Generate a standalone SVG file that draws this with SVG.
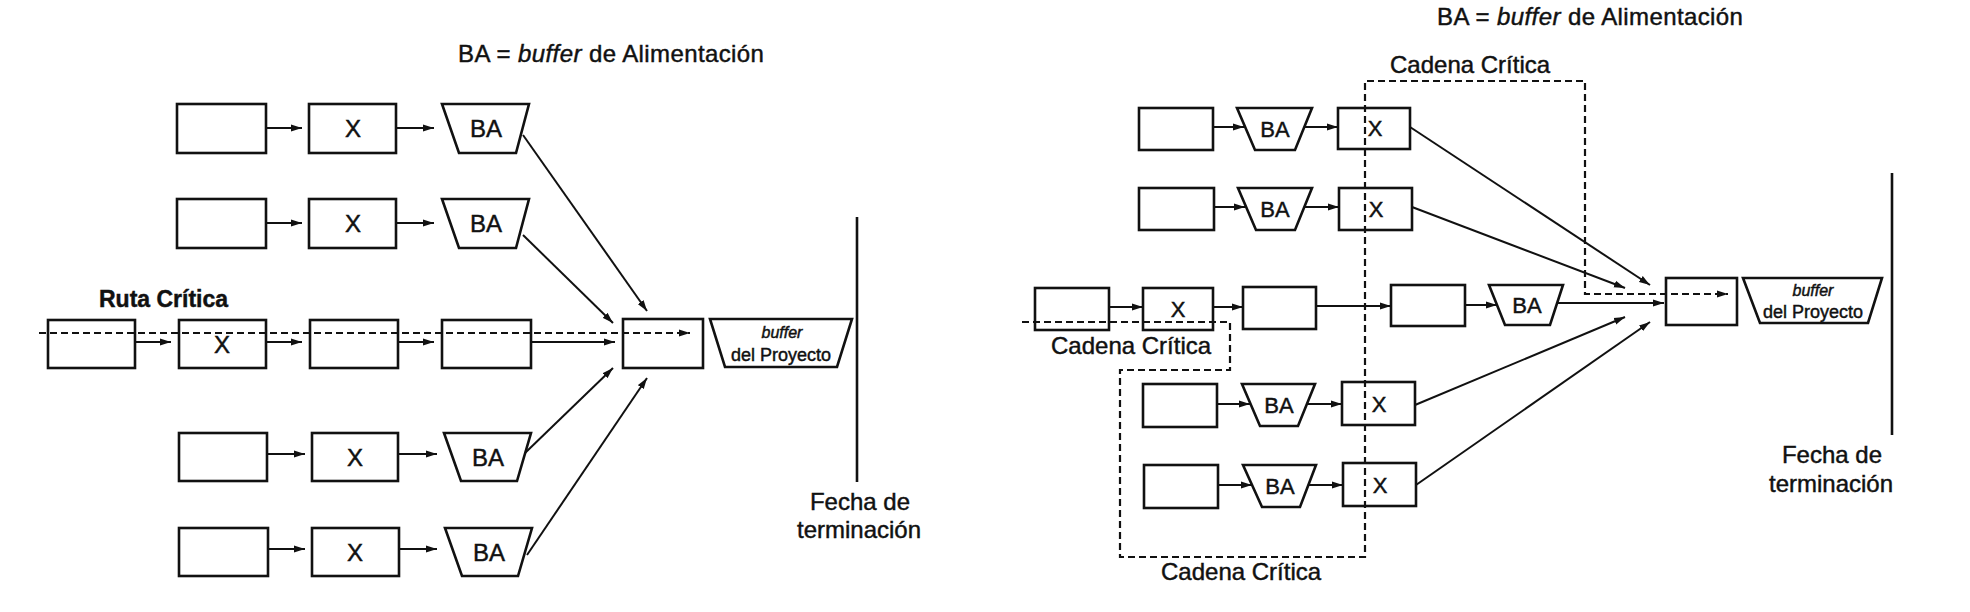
<svg xmlns="http://www.w3.org/2000/svg" width="1970" height="612" viewBox="0 0 1970 612">
<style>
.b{fill:none;stroke:#111;stroke-width:2.6}
.c{fill:none;stroke:#111;stroke-width:2}
.d{fill:none;stroke:#111;stroke-width:2.2;stroke-dasharray:7 4}
text{font-family:"Liberation Sans",Arial,sans-serif;fill:#111;stroke:#111;stroke-width:0.45}
.t{font-size:24px;text-anchor:middle}
.s{font-size:22px;text-anchor:middle}
.lbl{font-size:24px}
.pb{font-size:18px;text-anchor:middle}
.pbi{font-size:16px;text-anchor:middle;font-style:italic}
</style>
<defs>
<marker id="ah" markerUnits="userSpaceOnUse" markerWidth="12" markerHeight="8" refX="11" refY="4" orient="auto">
<path d="M0,0.5 L11,4 L0,7.5 z" fill="#111" stroke="none"/>
</marker>
</defs>
<rect width="1970" height="612" fill="#fff"/>

<!-- LEFT DIAGRAM -->
<text id="title-left" class="lbl" x="458" y="62" font-size="25" letter-spacing="0.4">BA = <tspan font-style="italic">buffer</tspan> de Alimentación</text>
<text id="ruta-critica" x="99" y="307" font-size="23" font-weight="bold" stroke-width="0">Ruta Crítica</text>

<g id="L1a"><rect class="b" x="177" y="104" width="89" height="49"/></g>
<g id="L1x"><rect class="b" x="309" y="104" width="87" height="49"/><text class="t" x="353" y="137">X</text></g>
<g id="L1ba"><polygon class="b" points="442,104 529,104 516,153 459,153"/><text class="t" x="486" y="137">BA</text></g>

<g id="L2a"><rect class="b" x="177" y="199" width="89" height="49"/></g>
<g id="L2x"><rect class="b" x="309" y="199" width="87" height="49"/><text class="t" x="353" y="232">X</text></g>
<g id="L2ba"><polygon class="b" points="442,199 529,199 516,248 459,248"/><text class="t" x="486" y="232">BA</text></g>

<g id="L3a"><rect class="b" x="48" y="320" width="87" height="48"/></g>
<g id="L3x"><rect class="b" x="179" y="320" width="87" height="48"/><text class="t" x="222" y="353">X</text></g>
<g id="L3c"><rect class="b" x="310" y="320" width="88" height="48"/></g>
<g id="L3d"><rect class="b" x="442" y="320" width="89" height="48"/></g>
<g id="Lmerge"><rect class="b" x="623" y="319" width="80" height="49"/></g>
<g id="Lpb"><polygon class="b" points="710,319 852,319 837,367 725,367"/><text class="pbi" x="782" y="338">buffer</text><text class="pb" x="781" y="361">del Proyecto</text></g>

<g id="L4a"><rect class="b" x="179" y="433" width="88" height="48"/></g>
<g id="L4x"><rect class="b" x="312" y="433" width="86" height="48"/><text class="t" x="355" y="466">X</text></g>
<g id="L4ba"><polygon class="b" points="444,433 531,433 517,481 461,481"/><text class="t" x="488" y="466">BA</text></g>

<g id="L5a"><rect class="b" x="179" y="528" width="89" height="48"/></g>
<g id="L5x"><rect class="b" x="312" y="528" width="87" height="48"/><text class="t" x="355" y="561">X</text></g>
<g id="L5ba"><polygon class="b" points="445,528 532,528 518,576 462,576"/><text class="t" x="489" y="561">BA</text></g>

<g id="Lfecha">
<line class="b" x1="857" y1="217" x2="857" y2="482"/>
<text class="t" x="860" y="510" font-size="25">Fecha de</text>
<text class="t" x="859" y="538" font-size="25">terminación</text>
</g>

<!-- RIGHT DIAGRAM -->
<text id="title-right" class="lbl" x="1437" y="25" font-size="25" letter-spacing="0.4">BA = <tspan font-style="italic">buffer</tspan> de Alimentación</text>
<text id="cc-top" class="lbl" x="1390" y="73">Cadena Crítica</text>
<text id="cc-mid" class="lbl" x="1051" y="354">Cadena Crítica</text>
<text id="cc-bottom" class="lbl" x="1161" y="580">Cadena Crítica</text>

<g id="R1a"><rect class="b" x="1139" y="108" width="74" height="42"/></g>
<g id="R1ba"><polygon class="b" points="1237,108 1312,108 1295,150 1255,150"/><text class="s" x="1275" y="137">BA</text></g>
<g id="R1x"><rect class="b" x="1338" y="108" width="72" height="41"/><text class="s" x="1375" y="136">X</text></g>

<g id="R2a"><rect class="b" x="1139" y="188" width="75" height="42"/></g>
<g id="R2ba"><polygon class="b" points="1238,188 1312,188 1295,230 1256,230"/><text class="s" x="1275" y="217">BA</text></g>
<g id="R2x"><rect class="b" x="1339" y="188" width="73" height="42"/><text class="s" x="1376" y="217">X</text></g>

<g id="R3a"><rect class="b" x="1035" y="288" width="74" height="42"/></g>
<g id="R3x"><rect class="b" x="1143" y="288" width="70" height="42"/><text class="s" x="1178" y="317">X</text></g>
<g id="R3c"><rect class="b" x="1243" y="287" width="73" height="42"/></g>
<g id="R3d"><rect class="b" x="1391" y="285" width="74" height="41"/></g>
<g id="R3ba"><polygon class="b" points="1489,285 1563,285 1550,325 1505,325"/><text class="s" x="1527" y="313">BA</text></g>
<g id="Rmerge"><rect class="b" x="1666" y="278" width="71" height="47"/></g>
<g id="Rpb"><polygon class="b" points="1743,278 1882,278 1868,323 1760,323"/><text class="pbi" x="1813" y="296">buffer</text><text class="pb" x="1813" y="318">del Proyecto</text></g>

<g id="R4a"><rect class="b" x="1143" y="384" width="74" height="43"/></g>
<g id="R4ba"><polygon class="b" points="1242,384 1315,384 1298,426 1260,426"/><text class="s" x="1279" y="413">BA</text></g>
<g id="R4x"><rect class="b" x="1342" y="382" width="73" height="43"/><text class="s" x="1379" y="412">X</text></g>

<g id="R5a"><rect class="b" x="1144" y="465" width="74" height="43"/></g>
<g id="R5ba"><polygon class="b" points="1243,465 1316,465 1300,507 1262,507"/><text class="s" x="1280" y="494">BA</text></g>
<g id="R5x"><rect class="b" x="1343" y="463" width="73" height="43"/><text class="s" x="1380" y="493">X</text></g>

<g id="Rfecha">
<line class="b" x1="1892" y1="173" x2="1892" y2="435"/>
<text class="t" x="1832" y="463" font-size="25">Fecha de</text>
<text class="t" x="1831" y="492" font-size="25">terminación</text>
</g>

<g id="connectors">
<!-- left -->
<line class="c" x1="266" y1="128" x2="302" y2="128" marker-end="url(#ah)"/>
<line class="c" x1="396" y1="128" x2="434" y2="128" marker-end="url(#ah)"/>
<line class="c" x1="266" y1="223" x2="302" y2="223" marker-end="url(#ah)"/>
<line class="c" x1="396" y1="223" x2="434" y2="223" marker-end="url(#ah)"/>
<line class="c" x1="135" y1="342" x2="171" y2="342" marker-end="url(#ah)"/>
<line class="c" x1="266" y1="342" x2="302" y2="342" marker-end="url(#ah)"/>
<line class="c" x1="398" y1="342" x2="434" y2="342" marker-end="url(#ah)"/>
<line class="c" x1="531" y1="342" x2="615" y2="342" marker-end="url(#ah)"/>
<line class="c" x1="267" y1="454" x2="305" y2="454" marker-end="url(#ah)"/>
<line class="c" x1="398" y1="454" x2="437" y2="454" marker-end="url(#ah)"/>
<line class="c" x1="268" y1="549" x2="305" y2="549" marker-end="url(#ah)"/>
<line class="c" x1="399" y1="549" x2="437" y2="549" marker-end="url(#ah)"/>
<line class="c" x1="523" y1="135" x2="647" y2="311" marker-end="url(#ah)"/>
<line class="c" x1="523" y1="235" x2="613" y2="323" marker-end="url(#ah)"/>
<line class="c" x1="525" y1="453" x2="613" y2="368" marker-end="url(#ah)"/>
<line class="c" x1="527" y1="555" x2="647" y2="378" marker-end="url(#ah)"/>
<line class="d" x1="39" y1="333" x2="690" y2="333" marker-end="url(#ah)"/>
<!-- right -->
<line class="c" x1="1213" y1="127" x2="1244" y2="127" marker-end="url(#ah)"/>
<line class="c" x1="1305" y1="127" x2="1338" y2="127" marker-end="url(#ah)"/>
<line class="c" x1="1214" y1="207" x2="1245" y2="207" marker-end="url(#ah)"/>
<line class="c" x1="1305" y1="207" x2="1339" y2="207" marker-end="url(#ah)"/>
<line class="c" x1="1109" y1="307" x2="1143" y2="307" marker-end="url(#ah)"/>
<line class="c" x1="1213" y1="307" x2="1243" y2="307" marker-end="url(#ah)"/>
<line class="c" x1="1316" y1="306" x2="1391" y2="306" marker-end="url(#ah)"/>
<line class="c" x1="1465" y1="305" x2="1497" y2="305" marker-end="url(#ah)"/>
<line class="c" x1="1557" y1="303" x2="1664" y2="303" marker-end="url(#ah)"/>
<line class="c" x1="1217" y1="404" x2="1250" y2="404" marker-end="url(#ah)"/>
<line class="c" x1="1307" y1="404" x2="1342" y2="404" marker-end="url(#ah)"/>
<line class="c" x1="1218" y1="485" x2="1252" y2="485" marker-end="url(#ah)"/>
<line class="c" x1="1308" y1="485" x2="1343" y2="485" marker-end="url(#ah)"/>
<line class="c" x1="1410" y1="127" x2="1650" y2="285" marker-end="url(#ah)"/>
<line class="c" x1="1412" y1="207" x2="1625" y2="288" marker-end="url(#ah)"/>
<line class="c" x1="1415" y1="405" x2="1625" y2="317" marker-end="url(#ah)"/>
<line class="c" x1="1416" y1="485" x2="1650" y2="322" marker-end="url(#ah)"/>
<path class="d" d="M1022,322 H1230 V370 H1120 V557 H1365 V81 H1585 V294 H1728" marker-end="url(#ah)"/>
</g>
</svg>
